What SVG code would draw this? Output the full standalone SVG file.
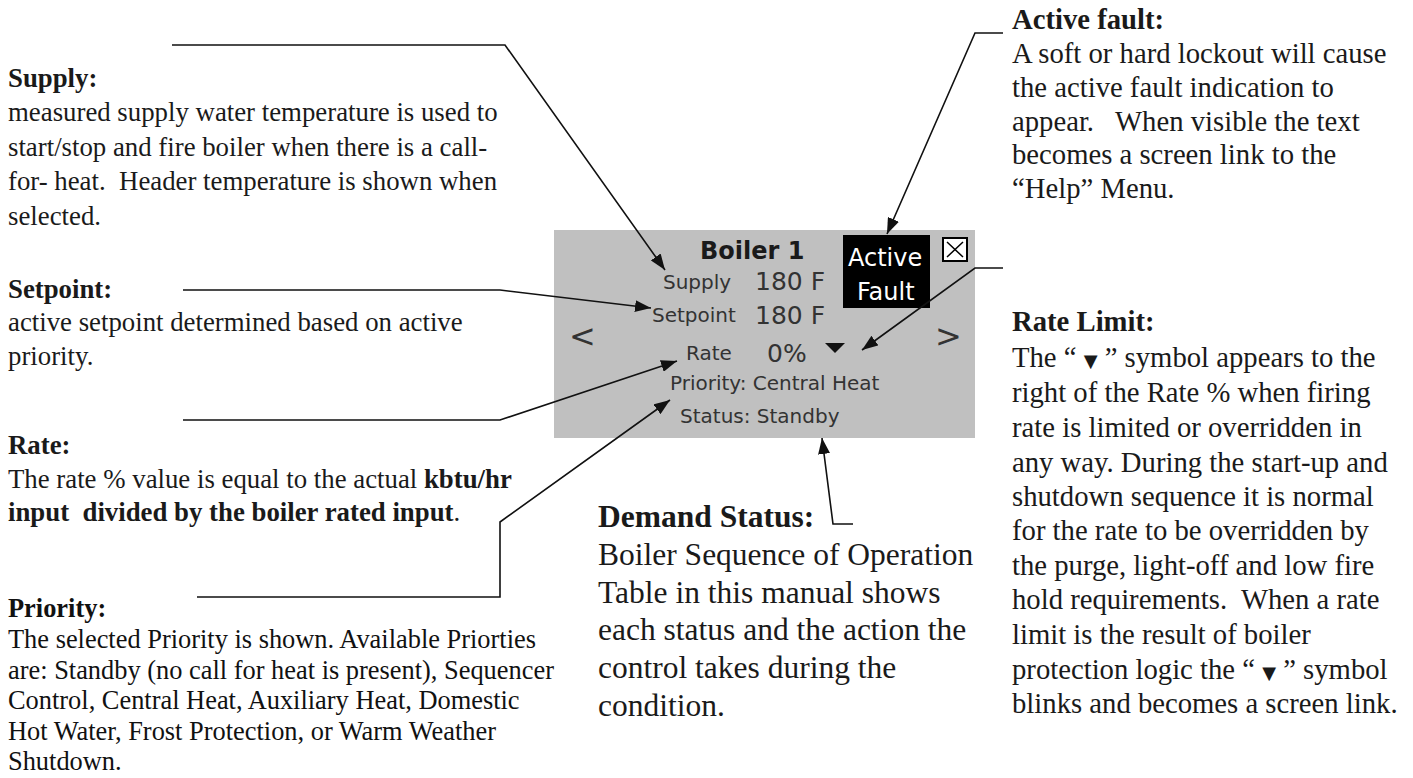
<svg xmlns="http://www.w3.org/2000/svg" width="1413" height="778" viewBox="0 0 1413 778">
<style>
.t{font-family:"Liberation Serif","Times New Roman",serif;font-size:28.7px;fill:#1a1a1a}
.l{font-family:"Liberation Serif","Times New Roman",serif;font-size:26.8px;fill:#1a1a1a}
.p{font-family:"Liberation Serif","Times New Roman",serif;font-size:26.4px;fill:#111}
.d{font-family:"Liberation Serif","Times New Roman",serif;font-size:31.5px;fill:#1a1a1a}
.b{font-weight:bold}
.s{font-family:"DejaVu Sans",Verdana,sans-serif;fill:#333}
.tri{font-family:"DejaVu Sans",sans-serif;font-size:18px}
.c{fill:none;stroke:#111;stroke-width:1.6}
</style>
<defs>
<marker id="ah" markerUnits="userSpaceOnUse" markerWidth="17" markerHeight="12" refX="16" refY="6" orient="auto">
<path d="M0,0 L16,6 L0,12 z" fill="#111"/>
</marker>
</defs>
<rect width="1413" height="778" fill="#fff"/>

<g id="display">
<rect x="554" y="230" width="421" height="208" fill="#c0c0c0"/>
<text class="s" x="700" y="259" font-size="24" font-weight="bold" style="fill:#1a1a1a">Boiler 1</text>
<text class="s" x="663" y="289" font-size="20">Supply</text>
<text class="s" x="755" y="290" font-size="25">180 F</text>
<text class="s" x="652" y="322" font-size="20">Setpoint</text>
<text class="s" x="755" y="324" font-size="25">180 F</text>
<text class="s" x="569" y="347" font-size="32">&lt;</text>
<text class="s" x="935" y="347" font-size="32">&gt;</text>
<text class="s" x="686" y="360" font-size="20">Rate</text>
<text class="s" x="767" y="362" font-size="25">0%</text>
<path d="M825,343 L845,343 L835,353 z" fill="#111"/>
<text class="s" x="670" y="390" font-size="20">Priority: Central Heat</text>
<text class="s" x="680" y="423" font-size="20">Status: Standby</text>
<rect x="843" y="235" width="87" height="73" fill="#000"/>
<text class="s" x="848" y="266" font-size="24" style="fill:#fff">Active</text>
<text class="s" x="857" y="300" font-size="24" style="fill:#fff">Fault</text>
<rect x="943" y="238" width="24" height="23" fill="#fff" stroke="#000" stroke-width="2"/>
<path d="M947,242 L963,257 M963,242 L947,257" stroke="#000" stroke-width="1.5"/>
</g>

<g id="supply">
<text class="l b" x="8" y="87">Supply:</text>
<text class="l" x="8" y="121">measured supply water temperature is used to</text>
<text class="l" x="8" y="156">start/stop and fire boiler when there is a call-</text>
<text class="l" x="8" y="190" xml:space="preserve">for- heat.  Header temperature is shown when</text>
<text class="l" x="8" y="225">selected.</text>
</g>

<g id="setpoint">
<text class="l b" x="8" y="298">Setpoint:</text>
<text class="l" x="8" y="331">active setpoint determined based on active</text>
<text class="l" x="8" y="365">priority.</text>
</g>

<g id="rate">
<text class="l b" x="8" y="454">Rate:</text>
<text class="l" x="8" y="488">The rate % value is equal to the actual <tspan class="b">kbtu/hr</tspan></text>
<text class="l" x="8" y="521" xml:space="preserve"><tspan class="b">input  divided by the boiler rated input</tspan>.</text>
</g>

<g id="priority">
<text class="p b" x="8" y="617">Priority:</text>
<text class="p" x="8" y="648">The selected Priority is shown. Available Priorties</text>
<text class="p" x="8" y="679">are: Standby (no call for heat is present), Sequencer</text>
<text class="p" x="8" y="709">Control, Central Heat, Auxiliary Heat, Domestic</text>
<text class="p" x="8" y="740">Hot Water, Frost Protection, or Warm Weather</text>
<text class="p" x="8" y="770">Shutdown.</text>
</g>

<g id="demand-status">
<text class="d b" x="598" y="527">Demand Status:</text>
<text class="d" x="598" y="565">Boiler Sequence of Operation</text>
<text class="d" x="598" y="603">Table in this manual shows</text>
<text class="d" x="598" y="640">each status and the action the</text>
<text class="d" x="598" y="678">control takes during the</text>
<text class="d" x="598" y="716">condition.</text>
</g>

<g id="active-fault">
<text class="t b" x="1012" y="29">Active fault:</text>
<text class="t" x="1012" y="63">A soft or hard lockout will cause</text>
<text class="t" x="1012" y="97">the active fault indication to</text>
<text class="t" x="1012" y="131" xml:space="preserve">appear.   When visible the text</text>
<text class="t" x="1012" y="164">becomes a screen link to the</text>
<text class="t" x="1012" y="198">“Help” Menu.</text>
</g>

<g id="rate-limit">
<text class="t b" x="1012" y="331">Rate Limit:</text>
<text class="t" x="1012" y="367">The “ <tspan class="tri">▼</tspan> ” symbol appears to the</text>
<text class="t" x="1012" y="402">right of the Rate % when firing</text>
<text class="t" x="1012" y="437">rate is limited or overridden in</text>
<text class="t" x="1012" y="472">any way. During the start-up and</text>
<text class="t" x="1012" y="506">shutdown sequence it is normal</text>
<text class="t" x="1012" y="540">for the rate to be overridden by</text>
<text class="t" x="1012" y="575">the purge, light-off and low fire</text>
<text class="t" x="1012" y="609" xml:space="preserve">hold requirements.  When a rate</text>
<text class="t" x="1012" y="644">limit is the result of boiler</text>
<text class="t" x="1012" y="679">protection logic the “ <tspan class="tri">▼</tspan> ” symbol</text>
<text class="t" x="1012" y="713">blinks and becomes a screen link.</text>
</g>

<g id="connectors">
<path class="c" d="M172,45 H505 L665,270" marker-end="url(#ah)"/>
<path class="c" d="M183,290 H500 L651,308" marker-end="url(#ah)"/>
<path class="c" d="M183,420 H500 L677,361" marker-end="url(#ah)"/>
<path class="c" d="M197,597 H500 V522 L670,400" marker-end="url(#ah)"/>
<path class="c" d="M853,524 H833 L822,438" marker-end="url(#ah)"/>
<path class="c" d="M1003,33 H975 L887,234" marker-end="url(#ah)"/>
<path class="c" d="M1003,268 H975 L862,350" marker-end="url(#ah)"/>
</g>
</svg>
